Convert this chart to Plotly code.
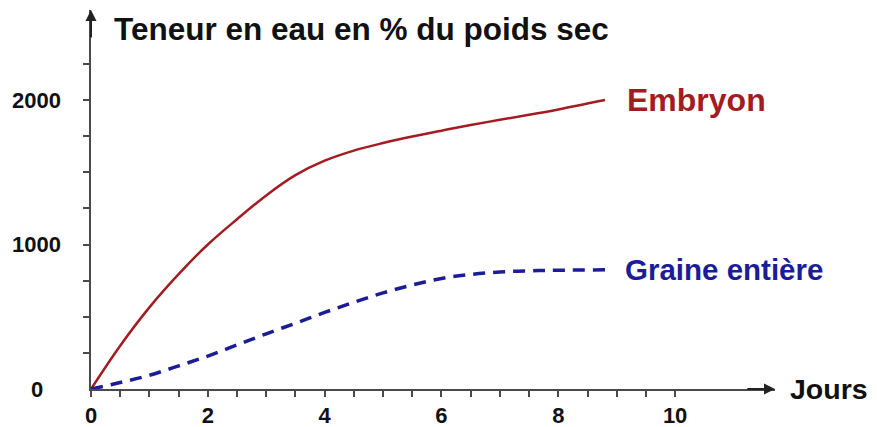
import plotly.graph_objects as go

# Data
jours = [0, 0.5, 1, 1.5, 2, 2.5, 3, 3.5, 4, 4.5, 5, 5.5, 6, 6.5, 7, 7.5, 8, 8.8]
embryon = [0, 300, 565, 795, 1000, 1175, 1340, 1480, 1580, 1650, 1702, 1747, 1788, 1827, 1863, 1898, 1935, 2000]
graine = [0, 45, 95, 160, 228, 305, 382, 455, 530, 600, 665, 720, 765, 793, 810, 818, 822, 825]

x_major = [0, 2, 4, 6, 8, 10]
x_minor = [0.5, 1, 1.5, 2.5, 3, 3.5, 4.5, 5, 5.5, 6.5, 7, 7.5, 8.5, 9, 9.5]
y_ticks = [250, 500, 750, 1000, 1250, 1500, 1750, 2000, 2250]
y_labels = [0, 1000, 2000]

X_MAX = 11.71
Y_MAX = 2623

FONT = "Liberation Sans, Arial, sans-serif"
RED = "#a11d22"
BLUE = "#1c1c96"
AX = "#4a4a4a"

fig = go.Figure()
fig.add_trace(go.Scatter(x=jours, y=embryon, mode="lines",
                         line=dict(color=RED, width=2.5, shape="spline", smoothing=1),
                         cliponaxis=False, name="Embryon", hoverinfo="skip"))
fig.add_trace(go.Scatter(x=jours, y=graine, mode="lines",
                         line=dict(color=BLUE, width=3.5, shape="spline", smoothing=1,
                                   dash="12px,8px"),
                         cliponaxis=False, name="Graine entière", hoverinfo="skip"))

annotations = []
# axis arrows
annotations.append(dict(x=X_MAX, y=0, ax=X_MAX - 0.5, ay=0, xref="x", yref="y",
                        axref="x", ayref="y", showarrow=True, arrowhead=2, arrowsize=1.1,
                        arrowwidth=2, arrowcolor="#222", text=""))
annotations.append(dict(x=0, y=Y_MAX, ax=0, ay=Y_MAX - 200, xref="x", yref="y",
                        axref="x", ayref="y", showarrow=True, arrowhead=2, arrowsize=1.1,
                        arrowwidth=2, arrowcolor="#222", text=""))
# y tick labels (centered)
for v in y_labels:
    annotations.append(dict(x=-0.079, y=v, xref="paper", yref="y", text=f"<b>{v}</b>",
                            showarrow=False, xanchor="center", yanchor="middle",
                            font=dict(family=FONT, size=22, color="#111")))
# series labels
annotations.append(dict(x=jours[-1] + 0.34, y=embryon[-1], xref="x", yref="y",
                        text="<b>Embryon</b>", showarrow=False, xanchor="left", yanchor="middle",
                        font=dict(family=FONT, size=32, color=RED)))
annotations.append(dict(x=jours[-1] + 0.31, y=graine[-1], xref="x", yref="y",
                        text="<b>Graine entière</b>", showarrow=False, xanchor="left",
                        yanchor="middle", font=dict(family=FONT, size=29.5, color=BLUE)))
annotations.append(dict(x=1.019, y=0, xref="paper", yref="y", text="<b>Jours</b>",
                        showarrow=False, xanchor="left", yanchor="middle",
                        font=dict(family=FONT, size=28.5, color="#111")))
annotations.append(dict(x=0.03, y=0.95, xref="paper", yref="paper",
                        text="<b>Teneur en eau en % du poids sec</b>", showarrow=False,
                        xanchor="left", yanchor="middle",
                        font=dict(family=FONT, size=31.5, color="#111")))

# the page body has an 8px margin, so the figure is sized to fit the 877x427 window
fig.update_layout(
    width=869, height=419,
    margin=dict(l=83, r=102, t=2, b=38),
    paper_bgcolor="white", plot_bgcolor="white",
    showlegend=False,
    annotations=annotations,
    xaxis=dict(range=[0, X_MAX], showgrid=False, zeroline=False, automargin=False,
               showline=True, linecolor=AX, linewidth=2,
               tickmode="array", tickvals=x_major, ticktext=[f"<b>{v}</b>" for v in x_major],
               ticks="outside", ticklen=6, tickwidth=2, tickcolor=AX,
               ticklabelstandoff=0,
               tickfont=dict(family=FONT, size=22, color="#111")),
    yaxis=dict(range=[0, Y_MAX], showgrid=False, zeroline=False, automargin=False,
               showline=True, linecolor=AX, linewidth=2,
               tickmode="array", tickvals=y_ticks, showticklabels=False,
               ticks="outside", ticklen=6, tickwidth=2, tickcolor=AX),
)
fig.update_xaxes(minor=dict(tickmode="array", tickvals=x_minor, ticks="outside",
                            ticklen=6, tickwidth=2, tickcolor=AX, showgrid=False))

fig.write_html("out.html")
